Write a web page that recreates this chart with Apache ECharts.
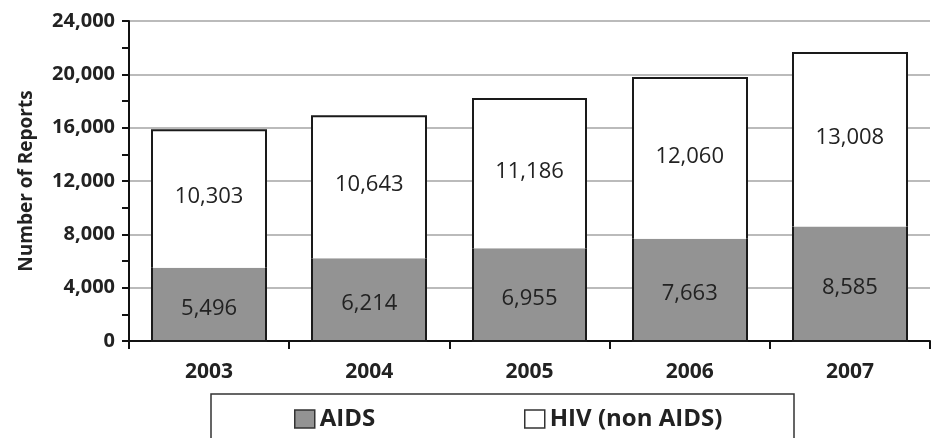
<!DOCTYPE html>
<html>
<head>
<meta charset="utf-8">
<script src="https://cdn.jsdelivr.net/npm/echarts@6/dist/echarts.min.js"></script>
<style>
  html, body { margin: 0; padding: 0; background: #fff; }
  #main { width: 935px; height: 438px; }
</style>
</head>
<body>
<div id="main"></div>
<script>
var years = ['2003', '2004', '2005', '2006', '2007'];
var aids = [5496, 6214, 6955, 7663, 8585];
var hiv = [10303, 10643, 11186, 12060, 13008];

var chart = echarts.init(document.getElementById('main'));
var font = '"Open Sans", "Noto Sans", sans-serif';
var gray = '#939393';
var edge = '#1a1a1a';

function fmt(v) { return v.toLocaleString('en-US'); }

// stacked bar piece drawn through the axes; outline only on the outer sides
function barPiece(fill, isTop, labelDy) {
  return function (params, api) {
    var idx = api.value(0), lo = api.value(1), val = api.value(2);
    var base = api.coord([idx, lo]);
    var top = api.coord([idx, lo + val]);
    var w = api.size([1, 0])[0] * 0.71;
    var x0 = Math.round(base[0] - w / 2), x1 = Math.round(base[0] + w / 2);
    var yb = base[1], yt = top[1];
    var pts = isTop
      ? [[x0, yb], [x0, yt], [x1, yt], [x1, yb]]
      : [[x0, yt], [x0, yb], [x1, yb], [x1, yt]];
    return {
      type: 'group',
      children: [
        { type: 'rect', shape: { x: x0, y: yt, width: x1 - x0, height: yb - yt }, style: { fill: fill } },
        { type: 'polyline', shape: { points: pts }, style: { fill: 'none', stroke: edge, lineWidth: 2 } },
        {
          type: 'text',
          style: {
            text: fmt(val), x: base[0], y: (yb + yt) / 2 + labelDy,
            textAlign: 'center', textVerticalAlign: 'middle',
            font: '22px ' + font, fill: '#222'
          }
        }
      ]
    };
  };
}

var aidsData = aids.map(function (v, i) { return [i, 0, v]; });
var hivData = hiv.map(function (v, i) { return [i, aids[i], v]; });

var legendText = { fontFamily: font, fontSize: 24, fontWeight: 'bold', color: '#222' };

var option = {
  animation: false,
  textStyle: { fontFamily: font },
  grid: { left: 129, top: 21, right: 5, bottom: 97 },
  graphic: [
    {
      type: 'rect',
      shape: { x: 211, y: 394, width: 583, height: 60 },
      style: { fill: 'none', stroke: '#333', lineWidth: 1.5 }
    }
  ],
  legend: [
    {
      left: 289,
      top: 402,
      itemWidth: 20,
      itemHeight: 18,
      itemGap: 6,
      textStyle: legendText,
      data: [{ name: 'AIDS', icon: 'rect', itemStyle: { color: gray, borderColor: '#333', borderWidth: 1.5 } }]
    },
    {
      left: 519,
      top: 402,
      itemWidth: 20,
      itemHeight: 18,
      textStyle: legendText,
      data: [{ name: 'HIV (non AIDS)', icon: 'rect', itemStyle: { color: '#fff', borderColor: '#333', borderWidth: 1.5 } }]
    }
  ],
  xAxis: {
    type: 'category',
    data: years,
    axisLine: { lineStyle: { color: '#111', width: 2 } },
    axisTick: { show: true, length: 8, lineStyle: { color: '#111', width: 2 } },
    axisLabel: { fontFamily: font, fontSize: 21, fontWeight: 'bold', color: '#222', margin: 21 }
  },
  yAxis: {
    type: 'value',
    min: 0,
    max: 24000,
    interval: 4000,
    name: 'Number of Reports',
    nameLocation: 'middle',
    nameRotate: 90,
    nameGap: 93,
    nameTextStyle: { fontFamily: font, fontSize: 19, fontWeight: 'bold', color: '#222' },
    axisLine: { show: true, lineStyle: { color: '#111', width: 2 } },
    axisTick: { show: true, length: 7, lineStyle: { color: '#111', width: 2 } },
    minorTick: { show: true, splitNumber: 2, length: 7, lineStyle: { color: '#111', width: 2 } },
    splitLine: { lineStyle: { color: '#bbb', width: 2 } },
    axisLabel: {
      fontFamily: font, fontSize: 20, fontWeight: 'bold', color: '#222', margin: 14,
      formatter: fmt
    }
  },
  series: [
    {
      name: 'AIDS',
      type: 'custom',
      data: aidsData,
      encode: { x: 0, y: 2 },
      itemStyle: { color: gray },
      renderItem: barPiece(gray, false, 4)
    },
    {
      name: 'HIV (non AIDS)',
      type: 'custom',
      data: hivData,
      encode: { x: 0, y: 2 },
      itemStyle: { color: '#fff' },
      renderItem: barPiece('#fff', true, -2)
    }
  ]
};

chart.setOption(option);
</script>
</body>
</html>
